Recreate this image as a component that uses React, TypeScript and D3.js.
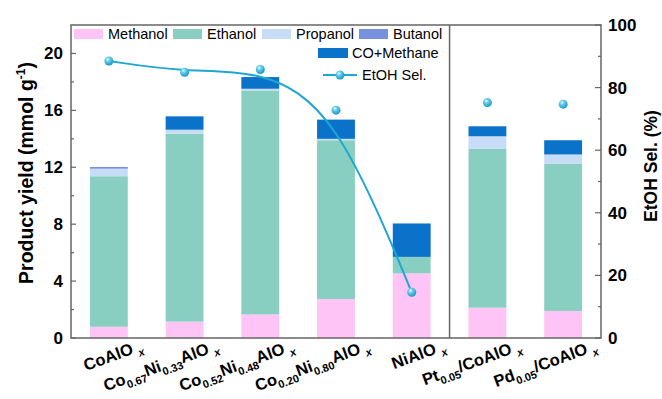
import React from 'react';
import * as d3 from 'd3';

// catalysts, "_{...}" marks a subscript
const catalysts = [
  'CoAlO_{x}',
  'Co_{0.67}Ni_{0.33}AlO_{x}',
  'Co_{0.52}Ni_{0.48}AlO_{x}',
  'Co_{0.20}Ni_{0.80}AlO_{x}',
  'NiAlO_{x}',
  'Pt_{0.05}/CoAlO_{x}',
  'Pd_{0.05}/CoAlO_{x}',
];
const methanol = [0.79, 1.15, 1.66, 2.74, 4.54, 2.13, 1.9];
const ethanol = [10.58, 13.21, 15.74, 11.16, 1.16, 11.17, 10.36];
const propanol = [0.53, 0.28, 0.12, 0.1, 0.0, 0.88, 0.64];
const butanol = [0.12, 0.0, 0.0, 0.0, 0.0, 0.0, 0.0];
const coMethane = [0.0, 0.94, 0.82, 1.35, 2.35, 0.7, 1.0];
const etohSel = [88.5, 84.9, 85.8, 72.8, 14.6, 75.2, 74.7];

const seriesNames = ['Methanol', 'Ethanol', 'Propanol', 'Butanol', 'CO+Methane'];
const seriesColors = ['#ffc4f6', '#89cfc1', '#c7dcf7', '#7891de', '#0a72c9'];
const lineColor = '#1ea7d2';

const yTicks = [0, 4, 8, 12, 16, 20];
const y2Ticks = [0, 20, 40, 60, 80, 100];

const W = 662, H = 399;
const m = { left: 71, right: 601, top: 25, bottom: 338 };
const frameColor = '#666';

function parseLabel(s: string) {
  const parts: { t: string; sub: boolean }[] = [];
  const re = /_\{([^}]*)\}|([^_]+)/g;
  let r;
  while ((r = re.exec(s))) {
    if (r[1] !== undefined) parts.push({ t: r[1], sub: true });
    else parts.push({ t: r[2], sub: false });
  }
  return parts;
}

export default function App() {
  const x = d3.scaleBand<number>().domain(d3.range(catalysts.length)).range([m.left, m.right]).paddingInner(0.5).paddingOuter(0.25);
  const y = d3.scaleLinear().domain([0, 22]).range([m.bottom, m.top]);
  const y2 = d3.scaleLinear().domain([0, 100]).range([m.bottom, m.top]);

  const rows = catalysts.map((c, i) => ({
    Methanol: methanol[i], Ethanol: ethanol[i], Propanol: propanol[i], Butanol: butanol[i], 'CO+Methane': coMethane[i],
  }));
  const stack = d3.stack<any>().keys(seriesNames)(rows);

  const linePts = etohSel.slice(0, 5).map((v, i) => [x(i)! + x.bandwidth() / 2, y2(v)] as [number, number]);
  const linePath = d3.line().curve(d3.curveBasis)(linePts) || '';

  const step = x.step();
  const sepX = m.left + step * 5;

  const minorY = d3.range(2, 22, 4);
  const minorY2 = d3.range(10, 100, 20);

  const font = 'Arial, "Liberation Sans", sans-serif';

  return (
    <svg width={W} height={H} style={{ position: 'absolute', left: 0, top: 0, fontFamily: font }}>
      <defs>
        <radialGradient id="ball" cx="0.38" cy="0.32" r="0.7">
          <stop offset="0" stopColor="#ffffff" />
          <stop offset="0.3" stopColor="#6fd0ee" />
          <stop offset="1" stopColor="#1496c2" />
        </radialGradient>
      </defs>

      {/* bars */}
      {stack.map((s, k) => (
        <g key={k} fill={seriesColors[k]}>
          {s.map((d, i) => d[1] - d[0] > 0 ? (
            <rect key={i} x={x(i)} width={x.bandwidth()} y={y(d[1])} height={y(d[0]) - y(d[1])} />
          ) : null)}
        </g>
      ))}

      {/* selectivity line */}
      <path d={linePath} fill="none" stroke={lineColor} strokeWidth={2} />
      {etohSel.map((v, i) => (
        <circle key={i} cx={x(i)! + x.bandwidth() / 2} cy={y2(v)} r={4.5} fill="url(#ball)" />
      ))}

      {/* frame */}
      <rect x={m.left} y={m.top} width={m.right - m.left} height={m.bottom - m.top} fill="none" stroke={frameColor} strokeWidth={1.5} />
      <line x1={sepX} x2={sepX} y1={m.top} y2={m.bottom} stroke={frameColor} strokeWidth={1.5} />

      {/* left axis */}
      {yTicks.map(t => (
        <g key={t}>
          <line x1={m.left} x2={m.left + 5} y1={y(t)} y2={y(t)} stroke={frameColor} strokeWidth={1.2} />
          <text x={m.left - 8} y={y(t)} dy="0.35em" textAnchor="end" fontSize={17} fontWeight="bold">{t}</text>
        </g>
      ))}
      {minorY.map(t => (
        <line key={t} x1={m.left} x2={m.left + 3} y1={y(t)} y2={y(t)} stroke={frameColor} strokeWidth={1.2} />
      ))}
      <text transform={`translate(33,173) rotate(-90)`} textAnchor="middle" fontSize={19.5} fontWeight="bold">
        Product yield (mmol g<tspan dy={-8} fontSize={12}>-1</tspan><tspan dy={8}>)</tspan>
      </text>

      {/* right axis */}
      {y2Ticks.map(t => (
        <g key={t}>
          <line x1={m.right - 6} x2={m.right} y1={y2(t)} y2={y2(t)} stroke={frameColor} strokeWidth={1.2} />
          <text x={m.right + 7} y={y2(t)} dy="0.35em" fontSize={17} fontWeight="bold">{t}</text>
        </g>
      ))}
      {minorY2.map(t => (
        <line key={t} x1={m.right - 3} x2={m.right} y1={y2(t)} y2={y2(t)} stroke={frameColor} strokeWidth={1.2} />
      ))}
      <text transform={`translate(657,166) rotate(-90)`} textAnchor="middle" fontSize={17.5} fontWeight="bold">
        EtOH Sel. (%)
      </text>

      {/* category labels */}
      {catalysts.map((c, i) => {
        const cx = x(i)! + x.bandwidth() / 2;
        const parts = parseLabel(c);
        return (
          <g key={i} transform={`translate(${cx + 35},350) rotate(-20)`}>
            <text textAnchor="end" fontSize={16.5} fontWeight="bold">
              {parts.map((p, j) => {
                const prevSub = j > 0 && parts[j - 1].sub;
                const isX = p.sub && p.t === 'x';
                const dy = p.sub && !prevSub ? 5 : !p.sub && prevSub ? -5 : 0;
                return (
                  <tspan key={j} dy={dy} dx={isX ? 4 : 0} fontSize={p.sub ? 11 : 16.5} fontStyle={isX ? 'italic' : 'normal'}>{p.t}</tspan>
                );
              })}
            </text>
          </g>
        );
      })}

      {/* legend */}
      {seriesNames.slice(0, 4).map((n, k) => {
        const lx = [74, 173, 262, 359][k];
        return (
          <g key={n}>
            <rect x={lx} y={29} width={29} height={10} fill={seriesColors[k]} />
            <text x={lx + 34} y={34} dy="0.35em" fontSize={14.5}>{n}</text>
          </g>
        );
      })}
      <rect x={318} y={48} width={30} height={10} fill={seriesColors[4]} />
      <text x={352} y={53} dy="0.35em" fontSize={14.5}>CO+Methane</text>
      <line x1={323} x2={357} y1={75} y2={75} stroke={lineColor} strokeWidth={2} />
      <circle cx={340} cy={75} r={4.5} fill="url(#ball)" />
      <text x={362} y={75} dy="0.35em" fontSize={14.5}>EtOH Sel.</text>
    </svg>
  );
}
